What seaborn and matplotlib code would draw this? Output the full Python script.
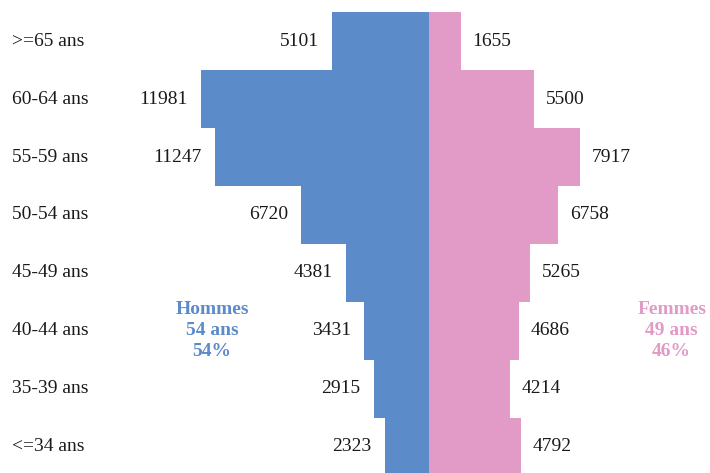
import seaborn as sns
import matplotlib.pyplot as plt
import pandas as pd

# Pyramide des âges : hommes à gauche, femmes à droite
tranches = [">=65 ans", "60-64 ans", "55-59 ans", "50-54 ans",
            "45-49 ans", "40-44 ans", "35-39 ans", "<=34 ans"]
hommes = [5101, 11981, 11247, 6720, 4381, 3431, 2915, 2323]
femmes = [1655, 5500, 7917, 6758, 5265, 4686, 4214, 4792]

bleu = "#5b8bc9"
rose = "#e29ac6"

df = pd.DataFrame({"tranche": tranches,
                   "hommes": [-v for v in hommes],
                   "femmes": femmes})

plt.rcParams["font.family"] = ["Liberation Serif", "DejaVu Serif"]

fig = plt.figure(figsize=(7.1, 4.73), dpi=100)
ax = fig.add_axes([0, 0, 1, 1])

sns.barplot(data=df, x="hommes", y="tranche", order=tranches, color=bleu,
            width=1, linewidth=0, saturation=1, ax=ax)
sns.barplot(data=df, x="femmes", y="tranche", order=tranches, color=rose,
            width=1, linewidth=0, saturation=1, ax=ax)

ax.set_xlim(-22524, 14727)
ax.set_ylim(7.457, -0.712)
ax.axis("off")

# valeurs au bout des barres
for i, (h, f) in enumerate(zip(hommes, femmes)):
    ax.annotate(str(h), (-h, i), xytext=(-9.5, 0), textcoords="offset points",
                ha="right", va="center", fontsize=14, color="#1a1a1a")
    ax.annotate(str(f), (f, i), xytext=(8.5, 0), textcoords="offset points",
                ha="left", va="center", fontsize=14, color="#1a1a1a")

# étiquettes des tranches d'âge
tr = ax.get_yaxis_transform()
for i, t in enumerate(tranches):
    ax.text(0.017, i, t, transform=tr, ha="left", va="center",
            fontsize=14, color="#1a1a1a")

ax.text(0.2986, 5, "Hommes\n54 ans\n54%", transform=tr, ha="center",
        va="center", fontsize=14, fontweight="bold", color=bleu,
        linespacing=1.3)
ax.text(0.946, 5, "Femmes\n49 ans\n46%", transform=tr, ha="center",
        va="center", fontsize=14, fontweight="bold", color=rose,
        linespacing=1.3)

fig.savefig("out.png", dpi=100)
